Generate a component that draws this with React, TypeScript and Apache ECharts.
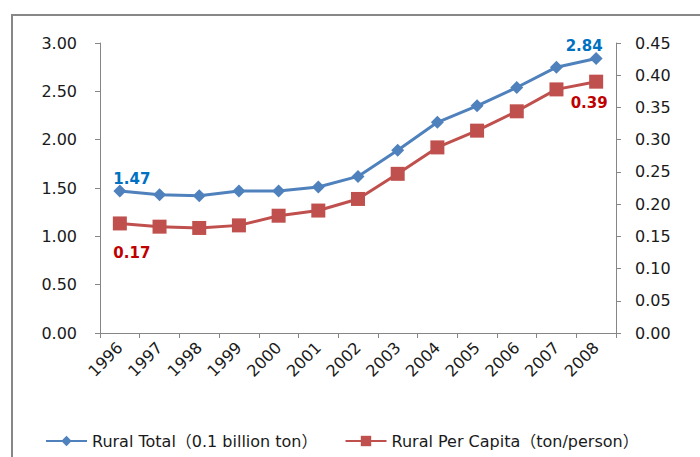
import React, { useEffect, useRef } from "react";
import * as echarts from "echarts";

const years = ["1996", "1997", "1998", "1999", "2000", "2001", "2002", "2003", "2004", "2005", "2006", "2007", "2008"];
const ruralTotal = [1.47, 1.43, 1.42, 1.47, 1.47, 1.51, 1.62, 1.89, 2.18, 2.35, 2.54, 2.75, 2.84];
const ruralPerCapita = [0.17, 0.165, 0.163, 0.167, 0.182, 0.19, 0.208, 0.247, 0.288, 0.314, 0.344, 0.378, 0.39];
const seriesNames = ["Rural Total（0.1 billion ton）", "Rural Per Capita（ton/person）"];

const FONT = "'DejaVu Sans', 'Noto Sans CJK SC', sans-serif";

export default function App() {
  const ref = useRef<HTMLDivElement>(null);
  useEffect(() => {
    if (!ref.current) return;
    const chart = echarts.init(ref.current, null, { renderer: "svg" });
    const last = years.length - 1;
    const mk = (
      arr: number[],
      color: string,
      pos: string,
      distance: number,
      offs: [number, number][]
    ) =>
      arr.map((v, i) =>
        i === 0 || i === last
          ? {
              value: v,
              label: {
                show: true,
                position: pos,
                distance,
                offset: i === 0 ? offs[0] : offs[1],
                color,
                fontWeight: "bold",
                fontSize: 15,
                fontFamily: FONT,
                formatter: () => v.toFixed(2),
              },
            }
          : v
      );
    chart.setOption({
      animation: false,
      textStyle: { fontFamily: FONT },
      graphic: [
        {
          type: "rect",
          shape: { x: 12, y: 15, width: 800, height: 600 },
          style: { fill: "none", stroke: "#878787", lineWidth: 2 },
          silent: true,
        },
      ],
      grid: { left: 100, right: 84, top: 43, bottom: 124, containLabel: false },
      legend: {
        bottom: 3,
        left: 40,
        itemWidth: 41,
        itemHeight: 13,
        itemGap: 27,
        textStyle: { fontSize: 16, color: "#1a1a1a", fontFamily: FONT },
        data: seriesNames,
      },
      xAxis: {
        type: "category",
        data: years,
        boundaryGap: true,
        axisLine: { lineStyle: { color: "#868686", width: 1 } },
        axisTick: { show: true, length: 5, lineStyle: { color: "#868686" } },
        axisLabel: { rotate: 45, fontSize: 16, color: "#1a1a1a", margin: 12, interval: 0 },
      },
      yAxis: [
        {
          type: "value",
          min: 0,
          max: 3,
          interval: 0.5,
          splitLine: { show: false },
          axisLine: { show: true, lineStyle: { color: "#868686" } },
          axisTick: { show: true, length: 5, lineStyle: { color: "#868686" } },
          axisLabel: { fontSize: 16, color: "#1a1a1a", margin: 23, formatter: (v: number) => v.toFixed(2) },
        },
        {
          type: "value",
          min: 0,
          max: 0.45,
          interval: 0.05,
          splitLine: { show: false },
          axisLine: { show: true, lineStyle: { color: "#868686" } },
          axisTick: { show: true, length: 5, lineStyle: { color: "#868686" } },
          axisLabel: { fontSize: 16, color: "#1a1a1a", margin: 19, formatter: (v: number) => v.toFixed(2) },
        },
      ],
      series: [
        {
          name: seriesNames[0],
          type: "line",
          yAxisIndex: 0,
          data: mk(ruralTotal, "#0070C0", "top", 0, [[12, 2], [-12, 2]]),
          symbol: "diamond",
          symbolSize: 13,
          itemStyle: { color: "#4F81BD" },
          lineStyle: { color: "#4F81BD", width: 3 },
          z: 3,
        },
        {
          name: seriesNames[1],
          type: "line",
          yAxisIndex: 1,
          data: mk(ruralPerCapita, "#C00000", "bottom", 15, [[12, 0], [-7, -8]]),
          symbol: "rect",
          symbolSize: 14,
          itemStyle: { color: "#C0504D" },
          lineStyle: { color: "#C0504D", width: 3 },
          z: 2,
        },
      ],
    });
    return () => chart.dispose();
  }, []);
  return (
    <div
      ref={ref}
      style={{ position: "fixed", left: 0, top: 0, width: 700, height: 457, background: "#fff" }}
    />
  );
}
